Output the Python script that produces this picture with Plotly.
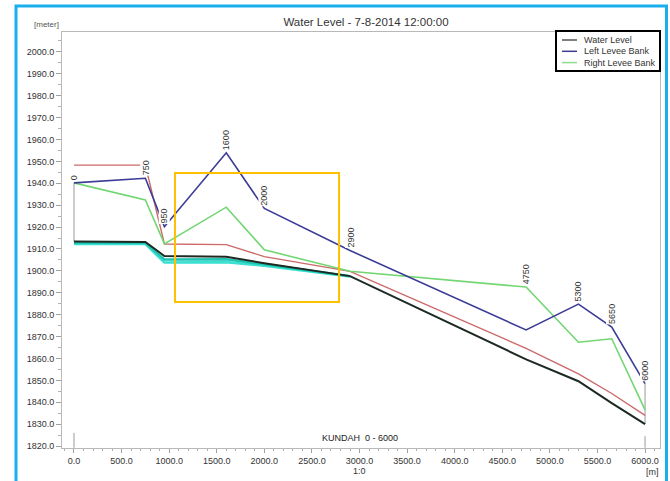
import plotly.graph_objects as go

# ---------------- data ----------------
chainage = [0, 750, 950, 1600, 2000, 2900, 4750, 5300, 5650, 6000]
chainage_labels = ["0", "750", "950", "1600", "2000", "2900", "4750", "5300", "5650", "6000"]
water_level = [1913.4, 1913.2, 1906.8, 1906.5, 1903.5, 1897.6, 1859.6, 1849.6, 1839.6, 1830.0]
left_levee = [1940.2, 1942.3, 1920.2, 1953.9, 1928.5, 1909.3, 1873.0, 1884.8, 1874.3, 1848.5]
right_levee = [1940.2, 1932.4, 1912.3, 1929.1, 1909.6, 1899.8, 1892.6, 1867.4, 1869.0, 1836.5]
red_level = [1948.3, 1948.3, 1912.3, 1912.0, 1906.5, 1899.8, 1864.6, 1853.0, 1844.0, 1834.0]

cyan_chainage = [0, 750, 950, 1600, 2000, 2900]
cyan_a = [1912.8, 1912.8, 1905.2, 1905.3, 1903.0, 1897.6]
cyan_b = [1912.3, 1912.3, 1903.8, 1904.0, 1902.4, 1897.4]

end_marker_x = [0, 0, None, 6000, 6000]
end_marker_y = [1913.4, 1940.2, None, 1830.0, 1848.5]
base_marker_x = [0, 0, None, 6000, 6000]
base_marker_y = [1819.2, 1826.0, None, 1819.2, 1824.5]

legend_names = ["Water Level", "Left Levee Bank", "Right Levee Bank"]
legend_colors = ["#555555", "#3c3c96", "#8fdc8f"]

x_ticks = [0, 500, 1000, 1500, 2000, 2500, 3000, 3500, 4000, 4500, 5000, 5500, 6000]
y_ticks = list(range(1820, 2001, 10))

title_text = "Water Level - 7-8-2014 12:00:00"
branch_text = "KUNDAH\u00a0 0 - 6000"

# ---------------- layout geometry ----------------
W, H = 670, 481
L, R, T, B = 62, 660, 32, 448


def px(xp):
    return (xp - L) / (R - L)


def py(yp):
    return (B - yp) / (B - T)


FONT = "Liberation Sans, Arial, sans-serif"
TXT = "#333333"

fig = go.Figure()

fig.add_trace(go.Scatter(x=end_marker_x, y=end_marker_y, mode="lines",
                         line=dict(color="#9a9a9a", width=1), showlegend=False, hoverinfo="skip"))
fig.add_trace(go.Scatter(x=base_marker_x, y=base_marker_y, mode="lines",
                         line=dict(color="#9a9a9a", width=1), showlegend=False, hoverinfo="skip"))
fig.add_trace(go.Scatter(x=cyan_chainage, y=cyan_b, mode="lines",
                         line=dict(color="#3ae0d2", width=2.6), showlegend=False))
fig.add_trace(go.Scatter(x=cyan_chainage, y=cyan_a, mode="lines",
                         line=dict(color="#1fc4b2", width=2.4), showlegend=False))
fig.add_trace(go.Scatter(x=chainage, y=red_level, mode="lines",
                         line=dict(color="#cc6a6a", width=1.4), showlegend=False))
fig.add_trace(go.Scatter(x=chainage, y=right_levee, mode="lines", name=legend_names[2],
                         line=dict(color="#72d672", width=1.6), showlegend=False))
fig.add_trace(go.Scatter(x=chainage, y=left_levee, mode="lines", name=legend_names[1],
                         line=dict(color="#3c3c96", width=1.6), showlegend=False))
fig.add_trace(go.Scatter(x=chainage, y=water_level, mode="lines", name=legend_names[0],
                         line=dict(color="#1c2a22", width=2.0), showlegend=False))

annotations = []
# chainage labels, rotated, above the highest bank
for c, lab, lv, rv in zip(chainage, chainage_labels, left_levee, right_levee):
    annotations.append(dict(x=c, y=max(lv, rv), xref="x", yref="y", text=lab, textangle=-90,
                            showarrow=False, xanchor="center", yanchor="bottom", yshift=2,
                            bgcolor="white", borderpad=0,
                            font=dict(family=FONT, size=9, color=TXT)))

annotations += [
    dict(x=px(46), y=py(24), xref="paper", yref="paper", text="[meter]", showarrow=False,
         xanchor="center", yanchor="middle", font=dict(family=FONT, size=8, color="#555555")),
    dict(x=px(652), y=py(472), xref="paper", yref="paper", text="[m]", showarrow=False,
         xanchor="center", yanchor="middle", font=dict(family=FONT, size=9, color=TXT)),
    dict(x=3000, y=py(471), xref="x", yref="paper", text="1:0", showarrow=False,
         xanchor="center", yanchor="middle", font=dict(family=FONT, size=9, color=TXT)),
    dict(x=3000, y=py(438), xref="x", yref="paper", text=branch_text, showarrow=False,
         xanchor="center", yanchor="middle", font=dict(family=FONT, size=9, color="#222222")),
]

# legend box (manual, compact as in the reference)
shapes = [
    dict(type="rect", xref="paper", yref="paper", x0=px(556), x1=px(660), y0=py(71), y1=py(31),
         line=dict(color="black", width=2), fillcolor="white", layer="above"),
]
for i, (name, col) in enumerate(zip(legend_names, legend_colors)):
    yy = 40 + i * 11.3
    shapes.append(dict(type="line", xref="paper", yref="paper", x0=px(562), x1=px(577),
                       y0=py(yy), y1=py(yy), line=dict(color=col, width=1.5), layer="above"))
    annotations.append(dict(x=px(582), y=py(yy), xref="paper", yref="paper", text=name,
                            showarrow=False, xanchor="left", yanchor="middle",
                            font=dict(family=FONT, size=9, color=TXT)))

# highlight rectangle and outer frame
shapes.append(dict(type="rect", xref="x", yref="y", x0=1061, x1=2785, y0=1885.8, y1=1944.7,
                   line=dict(color="#ffc000", width=2), layer="above"))
shapes.append(dict(type="rect", xref="paper", yref="paper", x0=px(16), x1=px(666.5),
                   y0=py(495), y1=py(6), line=dict(color="#1aaeee", width=3), layer="above"))

fig.update_layout(
    width=W, height=H,
    margin=dict(l=L, r=W - R, t=T, b=H - B, pad=0),
    paper_bgcolor="white", plot_bgcolor="white",
    showlegend=False,
    title=dict(text=title_text, x=px(366), xref="paper", xanchor="center",
               y=1 - 22 / H, yref="container", yanchor="middle",
               font=dict(family=FONT, size=11.5, color=TXT)),
    annotations=annotations,
    shapes=shapes,
    font=dict(family=FONT, size=9, color=TXT),
)

fig.update_xaxes(range=[-126, 6157], tickvals=x_ticks, tickformat=".1f",
                 showgrid=False, zeroline=False, showline=True, mirror=True,
                 linecolor="#b8b8b8", linewidth=1, ticks="outside", ticklen=4,
                 tickcolor="#a0a0a0", tickfont=dict(family=FONT, size=9, color=TXT),
                 minor=dict(dtick=100, ticks="outside", ticklen=2, tickcolor="#b0b0b0"))
fig.update_yaxes(range=[1819.1, 2009.1], tickvals=y_ticks, tickformat=".1f",
                 showgrid=False, zeroline=False, showline=True, mirror=True,
                 linecolor="#b8b8b8", linewidth=1, ticks="outside", ticklen=5,
                 tickcolor="#a0a0a0", tickfont=dict(family=FONT, size=9, color=TXT),
                 minor=dict(dtick=5, ticks="outside", ticklen=3, tickcolor="#b0b0b0"))

# remove the default page margin so the 670x481 figure fills the window exactly
fig.write_html("out.html",
               config={"displayModeBar": False},
               post_script="document.body.style.margin='0';document.body.style.overflow='hidden';")
